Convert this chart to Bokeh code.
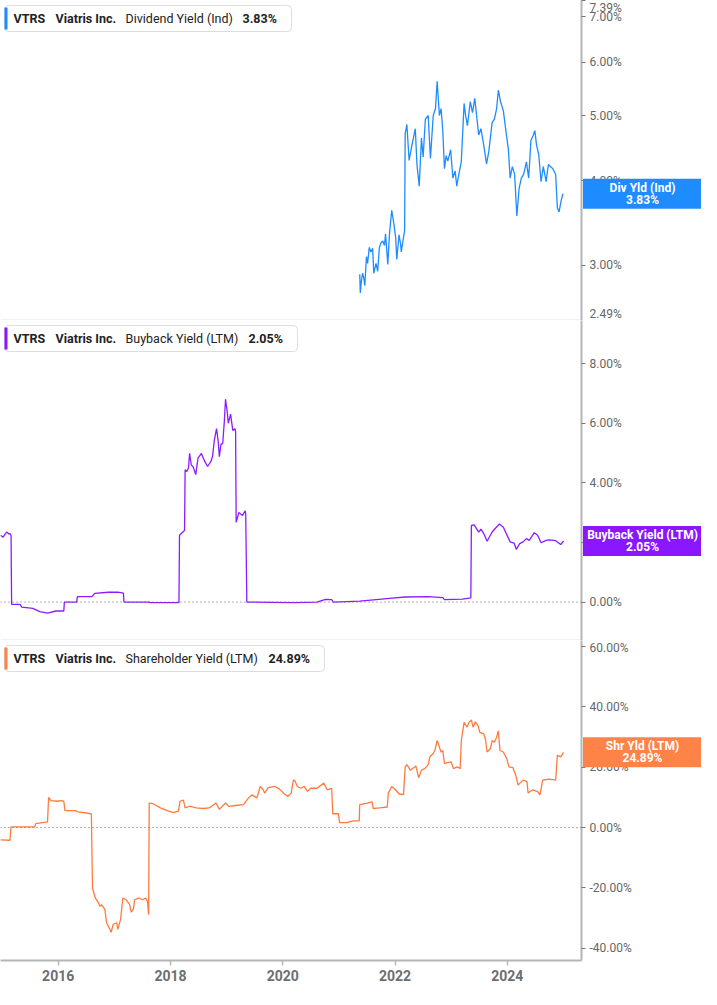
import math
from datetime import datetime
from bokeh.plotting import figure
from bokeh.layouts import column, row
from bokeh.models import (Range1d, FixedTicker, PrintfTickFormatter, Span,
                          BoxAnnotation, Label, DatetimeTickFormatter)
from bokeh.core.properties import value
from bokeh.embed import file_html
from bokeh.resources import INLINE

# ---------------- data ----------------
TICKER = "VTRS"
COMPANY = "Viatris Inc."

div_year = [2021.37, 2021.38, 2021.40, 2021.42, 2021.44, 2021.46, 2021.49, 2021.51, 2021.54, 2021.57,
            2021.60, 2021.62, 2021.66, 2021.69, 2021.72, 2021.75, 2021.78, 2021.81, 2021.83, 2021.87,
            2021.90, 2021.94, 2021.98, 2022.01, 2022.03, 2022.07, 2022.10, 2022.11, 2022.15, 2022.17,
            2022.18, 2022.21, 2022.25, 2022.29, 2022.33, 2022.36, 2022.39, 2022.43, 2022.47, 2022.50,
            2022.54, 2022.59, 2022.63, 2022.68, 2022.72, 2022.75, 2022.79, 2022.82, 2022.85, 2022.88,
            2022.91, 2022.94, 2022.99, 2023.03, 2023.07, 2023.10, 2023.14, 2023.18, 2023.23, 2023.26,
            2023.29, 2023.34, 2023.38, 2023.42, 2023.46, 2023.49, 2023.53, 2023.58, 2023.63, 2023.67,
            2023.73, 2023.77, 2023.81, 2023.84, 2023.88, 2023.93, 2023.97, 2024.02, 2024.05, 2024.09,
            2024.13, 2024.17, 2024.21, 2024.25, 2024.29, 2024.34, 2024.38, 2024.42, 2024.46, 2024.49,
            2024.52, 2024.56, 2024.60, 2024.64, 2024.69, 2024.73, 2024.77, 2024.81, 2024.86, 2024.89,
            2024.92, 2024.96, 2024.99]
div_yield = [2.91, 2.73, 2.85, 2.92, 2.88, 2.80, 3.09, 3.02, 3.19, 3.14,
             3.18, 2.92, 3.02, 2.94, 3.19, 3.24, 3.26, 3.21, 3.34, 3.01,
             3.34, 3.62, 3.45, 3.30, 3.06, 3.33, 3.22, 3.14, 3.30, 3.38,
             4.70, 4.85, 4.29, 4.47, 4.65, 4.78, 4.23, 3.93, 4.63, 4.34,
             4.94, 5.00, 4.32, 5.00, 5.12, 5.62, 5.00, 5.12, 4.75, 4.17,
             4.36, 4.28, 4.45, 4.04, 4.14, 3.93, 4.11, 4.27, 5.21, 4.98,
             4.83, 5.24, 5.05, 5.30, 4.94, 4.68, 4.78, 4.52, 4.24, 4.42,
             4.88, 4.94, 5.12, 5.45, 5.24, 5.08, 4.78, 4.45, 4.04, 4.20,
             4.09, 3.55, 3.90, 4.04, 4.09, 4.27, 4.04, 4.59, 4.67, 4.75,
             4.52, 4.37, 3.99, 4.20, 3.99, 4.23, 4.20, 4.17, 4.09, 3.65,
             3.60, 3.75, 3.83]

bb_year = [2014.97, 2015.02, 2015.06, 2015.09, 2015.12, 2015.14, 2015.16, 2015.17, 2015.32, 2015.35,
           2015.55, 2015.67, 2015.81, 2015.96, 2016.10, 2016.11, 2016.33, 2016.34, 2016.60, 2016.65,
           2016.89, 2017.06, 2017.16, 2017.17, 2017.62, 2017.63, 2018.15, 2018.16, 2018.22, 2018.25,
           2018.26, 2018.29, 2018.32, 2018.34, 2018.37, 2018.40, 2018.45, 2018.49, 2018.55, 2018.61,
           2018.66, 2018.72, 2018.75, 2018.78, 2018.82, 2018.85, 2018.87, 2018.90, 2018.93, 2018.96,
           2018.98, 2019.01, 2019.03, 2019.07, 2019.11, 2019.15, 2019.16, 2019.17, 2019.22, 2019.28,
           2019.33, 2019.34, 2019.36, 2019.80, 2020.21, 2020.61, 2020.76, 2020.87, 2020.90, 2021.37,
           2021.66, 2021.95, 2022.18, 2022.59, 2022.85, 2022.88, 2023.20, 2023.35, 2023.36, 2023.41,
           2023.49, 2023.53, 2023.58, 2023.64, 2023.73, 2023.78, 2023.86, 2023.93, 2024.05, 2024.12,
           2024.16, 2024.22, 2024.28, 2024.34, 2024.39, 2024.48, 2024.54, 2024.60, 2024.69, 2024.74,
           2024.86, 2024.95, 2025.00]
bb_yield = [2.24, 2.18, 2.30, 2.35, 2.28, 2.30, 2.24, -0.08, -0.08, -0.17,
            -0.21, -0.32, -0.37, -0.30, -0.30, 0.00, 0.00, 0.18, 0.18, 0.29,
            0.33, 0.33, 0.30, 0.00, 0.00, -0.02, -0.02, 2.24, 2.35, 2.40,
            4.44, 4.38, 4.50, 4.99, 4.60, 4.55, 4.28, 4.83, 4.99, 4.72,
            4.55, 4.72, 4.90, 5.43, 5.82, 5.40, 4.88, 5.30, 5.32, 6.09,
            6.81, 6.40, 6.00, 6.31, 5.76, 5.82, 5.71, 2.68, 3.01, 2.90,
            3.06, 2.96, 0.00, -0.01, -0.02, 0.00, 0.09, 0.08, 0.00, 0.03,
            0.08, 0.13, 0.17, 0.18, 0.15, 0.08, 0.10, 0.14, 2.57, 2.59,
            2.35, 2.45, 2.30, 2.04, 2.35, 2.46, 2.62, 2.51, 2.02, 1.98,
            1.77, 1.96, 2.02, 2.13, 2.07, 2.33, 2.24, 1.99, 2.07, 2.09,
            2.06, 1.93, 2.05]

shr_year = [2014.97, 2015.14, 2015.16, 2015.58, 2015.60, 2015.81, 2015.83, 2015.87, 2015.99, 2016.05,
            2016.10, 2016.12, 2016.31, 2016.34, 2016.48, 2016.59, 2016.61, 2016.66, 2016.72, 2016.74,
            2016.77, 2016.83, 2016.86, 2016.92, 2016.94, 2016.98, 2017.04, 2017.06, 2017.11, 2017.15,
            2017.21, 2017.27, 2017.30, 2017.34, 2017.36, 2017.44, 2017.50, 2017.56, 2017.59, 2017.61,
            2017.62, 2017.70, 2017.82, 2017.94, 2018.05, 2018.14, 2018.17, 2018.23, 2018.26, 2018.34,
            2018.46, 2018.58, 2018.69, 2018.81, 2018.87, 2018.98, 2019.04, 2019.16, 2019.30, 2019.39,
            2019.45, 2019.54, 2019.60, 2019.65, 2019.68, 2019.74, 2019.86, 2019.94, 2020.03, 2020.09,
            2020.15, 2020.19, 2020.21, 2020.26, 2020.32, 2020.38, 2020.44, 2020.50, 2020.61, 2020.73,
            2020.79, 2020.87, 2020.89, 2020.99, 2021.01, 2021.14, 2021.25, 2021.36, 2021.37, 2021.49,
            2021.59, 2021.61, 2021.72, 2021.86, 2021.88, 2021.94, 2022.01, 2022.07, 2022.15, 2022.18,
            2022.21, 2022.27, 2022.33, 2022.37, 2022.42, 2022.47, 2022.53, 2022.59, 2022.62, 2022.68,
            2022.71, 2022.75, 2022.79, 2022.82, 2022.85, 2022.88, 2023.00, 2023.04, 2023.11, 2023.16,
            2023.18, 2023.23, 2023.28, 2023.32, 2023.36, 2023.39, 2023.43, 2023.48, 2023.51, 2023.58,
            2023.61, 2023.64, 2023.70, 2023.73, 2023.77, 2023.81, 2023.84, 2023.87, 2023.93, 2023.99,
            2024.03, 2024.10, 2024.15, 2024.19, 2024.28, 2024.35, 2024.37, 2024.45, 2024.54, 2024.58,
            2024.63, 2024.74, 2024.86, 2024.89, 2024.95, 2025.00]
shr_yield = [-4.1, -4.2, 0.2, 0.2, 1.3, 1.85, 10.0, 8.9, 8.7, 8.9,
             8.7, 5.6, 5.6, 5.2, 4.9, 4.55, -20.1, -23.3, -25.0, -26.1,
             -25.5, -27.1, -31.5, -33.7, -34.7, -32.0, -31.5, -33.7, -30.4, -23.3,
             -23.9, -25.4, -28.0, -26.9, -23.9, -23.3, -23.9, -23.3, -24.6, -28.8,
             8.1, 7.8, 6.5, 5.6, 4.9, 5.4, 8.7, 9.1, 6.5, 7.05,
             6.5, 6.3, 6.5, 8.1, 6.0, 8.1, 7.0, 7.3, 7.6, 9.8,
             10.8, 9.8, 13.6, 12.5, 11.4, 13.2, 13.6, 12.8, 11.1, 10.3,
             11.4, 15.7, 15.7, 13.6, 13.0, 13.6, 12.0, 13.0, 13.0, 14.7,
             12.5, 13.0, 4.56, 4.56, 1.6, 1.6, 2.2, 2.2, 7.6, 8.0,
             8.5, 6.3, 6.5, 6.8, 11.4, 13.6, 12.5, 11.1, 10.9, 20.1,
             20.8, 19.0, 19.8, 20.4, 16.5, 19.0, 19.5, 20.8, 23.4, 24.5,
             25.6, 28.8, 26.6, 25.0, 25.5, 21.2, 21.7, 19.5, 20.1, 19.5,
             28.8, 34.8, 33.2, 34.8, 35.6, 33.2, 35.0, 33.7, 31.5, 31.0,
             29.3, 25.0, 26.1, 28.8, 28.2, 29.9, 32.0, 25.5, 25.0, 22.8,
             20.1, 19.8, 17.4, 14.1, 15.7, 15.2, 11.4, 12.5, 11.9, 10.8,
             15.7, 16.0, 15.7, 23.9, 23.4, 24.89]

div_ticks = [2.49, 3.0, 4.0, 5.0, 6.0, 7.0, 7.39]
bb_ticks = [0, 2, 4, 6, 8]
shr_ticks = [-40, -20, 0, 20, 40, 60]
year_ticks = [2016, 2018, 2020, 2022, 2024]

# ---------------- layout constants ----------------
FW, FH, RB, XAX = 581, 320, 120, 29
X_START, X_END = 2014.972, 2025.32
EPOCH = datetime(1970, 1, 1)
FONT = "Roboto"


def to_dt(y):
    yr = int(y)
    a, b = datetime(yr, 1, 1), datetime(yr + 1, 1, 1)
    return a + (b - a) * (y - yr)


def ms(dt):
    return (dt - EPOCH).total_seconds() * 1000.0


X0, X1 = ms(to_dt(X_START)), ms(to_dt(X_END))


def px_x(px):
    return X0 + px * (X1 - X0) / FW


def y_helpers(y0, y1, log):
    if log:
        l0, l1 = math.log(y0), math.log(y1)

        def py_y(py):
            return math.exp(l1 - py * (l1 - l0) / FH)

        def off(v, dpx):
            return v * math.exp(-dpx * (l1 - l0) / FH)
    else:
        def py_y(py):
            return y1 - py * (y1 - y0) / FH

        def off(v, dpx):
            return v - dpx * (y1 - y0) / FH
    return py_y, off


def make_panel(years, vals, line_color, box_color, name, short, ticks, yr, log,
               bottom_axis, legend_w, value_x):
    y0, y1 = yr
    last = vals[-1]
    y_range = Range1d(y0, y1)
    p = figure(frame_width=FW, frame_height=FH,
               x_range=Range1d(to_dt(X_START), to_dt(X_END)),
               y_range=y_range,
               x_axis_type="datetime",
               y_axis_type="log" if log else "linear",
               x_axis_location="below" if bottom_axis else None,
               y_axis_location="right",
               toolbar_location=None, output_backend="svg",
               min_border_left=0, min_border_right=RB, min_border_top=0,
               min_border_bottom=XAX if bottom_axis else 0,
               background_fill_color="white", border_fill_color="white",
               outline_line_color=None)
    p.xgrid.visible = False
    p.ygrid.visible = False
    py_y, off = y_helpers(y0, y1, log)

    if not log:
        p.add_layout(Span(location=0, dimension="width", line_color="#666666",
                          line_dash="1 3", line_width=1))
    if not bottom_axis:
        p.add_layout(Span(location=y0, dimension="width", line_color="#c8c8c8",
                          line_width=1.5))

    p.line([to_dt(t) for t in years], vals, line_color=line_color, line_width=1.3)

    ax = p.yaxis[0]
    ax.ticker = FixedTicker(ticks=ticks)
    ax.formatter = PrintfTickFormatter(format="%.2f%%")
    ax.axis_line_color = "#b5b5b5"
    ax.axis_line_width = 2
    ax.major_tick_in = 0
    ax.major_tick_out = 4
    ax.major_tick_line_color = "#777777"
    ax.minor_tick_line_color = None
    ax.major_label_text_color = "#666666"
    ax.major_label_text_font = FONT
    ax.major_label_text_font_size = "12px"
    ax.major_label_standoff = 4

    if bottom_axis:
        xa = p.xaxis[0]
        xa.ticker = FixedTicker(ticks=[ms(datetime(y, 1, 1)) for y in year_ticks])
        xa.formatter = DatetimeTickFormatter(years="%Y", months="%Y", days="%Y",
                                             hours="%Y", hourmin="%Y")
        xa.axis_line_color = "#b5b5b5"
        xa.axis_line_width = 2
        xa.major_tick_in = 0
        xa.major_tick_out = 5
        xa.major_tick_line_color = "#b5b5b5"
        xa.major_tick_line_width = 1.5
        xa.minor_tick_line_color = None
        xa.major_label_text_color = "#6e6e6e"
        xa.major_label_text_font = FONT
        xa.major_label_text_font_style = "bold"
        xa.major_label_text_font_size = "14px"
        xa.major_label_standoff = 4

    # legend chip
    p.add_layout(BoxAnnotation(left=px_x(4), right=px_x(legend_w), top=py_y(5), bottom=py_y(31),
                               fill_color="white", fill_alpha=1, line_color="#dddddd",
                               line_alpha=1, line_width=1, border_radius=4))
    p.add_layout(BoxAnnotation(left=px_x(4), right=px_x(7), top=py_y(7), bottom=py_y(29),
                               fill_color=box_color, fill_alpha=1, line_color=None))
    parts = [(TICKER, 13, "bold"), (COMPANY, 55, "bold"), (name, 125, "normal"),
             (f"{last:.2f}%", value_x, "bold")]
    for txt, xx, style in parts:
        p.add_layout(Label(x=px_x(xx), y=py_y(18), text=txt, text_font=FONT,
                           text_font_size="12.5px", text_font_style=style,
                           text_color="#222222", text_baseline="middle", text_align="left"))

    # transparent overlay figure over the right axis area carrying the value box
    s = figure(frame_width=RB, frame_height=FH, x_range=Range1d(0, RB), y_range=y_range,
               y_axis_type="log" if log else "linear",
               x_axis_location=None, y_axis_location=None,
               toolbar_location=None, output_backend="svg",
               min_border_left=0, min_border_right=0, min_border_top=0, min_border_bottom=0,
               background_fill_alpha=0, border_fill_alpha=0, outline_line_color=None,
               margin=(0, 0, 0, -RB))
    s.xgrid.visible = False
    s.ygrid.visible = False
    s.quad(left=[1.5], right=[RB], top=[off(last, -15)], bottom=[off(last, 15)],
           fill_color=box_color, line_color=None)
    s.text(x=[RB / 2 + 1, RB / 2 + 1], y=[off(last, -6), off(last, 6)],
           text=[short, f"{last:.2f}%"], text_font=value(FONT), text_font_size="12px",
           text_font_style="bold", text_color="white", text_align="center",
           text_baseline="middle")
    return row(p, s, spacing=0)


r1 = make_panel(div_year, div_yield, "#1e8cff", "#1e8cff", "Dividend Yield (Ind)",
                "Div Yld (Ind)", div_ticks, (2.486, 7.40), True, False, 291, 242)
r2 = make_panel(bb_year, bb_yield, "#8c1cff", "#8a17ff", "Buyback Yield (LTM)",
                "Buyback Yield (LTM)", bb_ticks, (-1.29, 9.45), False, False, 297, 248)
r3 = make_panel(shr_year, shr_yield, "#ff7a3d", "#ff8247", "Shareholder Yield (LTM)",
                "Shr Yld (LTM)", shr_ticks, (-44.0, 61.9), False, True, 324, 268)

layout = column(r1, r2, r3, spacing=0)
open("out.html", "w").write(file_html(layout, INLINE))
